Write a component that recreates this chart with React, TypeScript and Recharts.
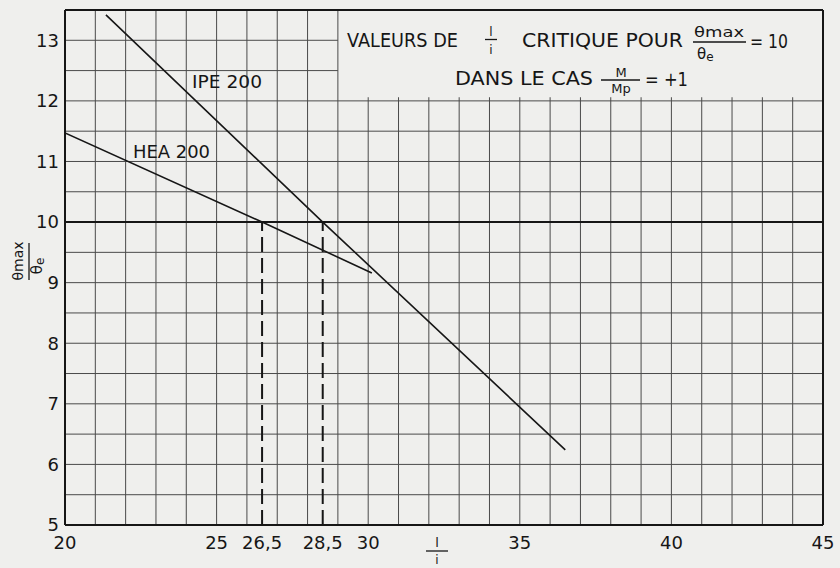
import { LineChart, Line, XAxis, YAxis, ReferenceLine } from "recharts";

// l/i values and theta_max/theta_e readings
const ipe200 = [
  { x: 21.35, y: 13.42 },
  { x: 28.5, y: 10 },
  { x: 36.5, y: 6.24 },
];

const hea200 = [
  { x: 20, y: 11.47 },
  { x: 26.5, y: 10 },
  { x: 30.12, y: 9.16 },
];

const xTicks = [20, 25, 26.5, 28.5, 30, 35, 40, 45];
const yTicks = [5, 6, 7, 8, 9, 10, 11, 12, 13];
const criticalX = [26.5, 28.5];

// grid
const gridXFull = [21, 22, 23, 24, 25, 26, 27, 28, 29];
const gridXShort = [30, 31, 32, 33, 34, 35, 36, 37, 38, 39, 40, 41, 42, 43, 44];
const gridYFull = [5.5, 6, 6.5, 7, 7.5, 8, 8.5, 9, 9.5, 10.5, 11, 11.5, 12];
const gridYShort = [12.5, 13];

const BG = "#efefed";
const GRID = "#4a4a4a";
const INK = "#161616";
const FONT = "'DejaVu Sans', sans-serif";

const fmt = (v: number) => String(v).replace(".", ",");

function Overlay() {
  const t = { fontFamily: FONT, fill: INK };
  return (
    <svg
      width={840}
      height={568}
      style={{ position: "absolute", left: 0, top: 0, pointerEvents: "none" }}
    >
      {/* title, line 1 */}
      <text {...t} x={347} y={47} fontSize={19} textLength={111} lengthAdjust="spacingAndGlyphs">
        VALEURS DE
      </text>
      <text {...t} x={491} y={36} fontSize={12} textAnchor="middle">l</text>
      <line x1={485} x2={497} y1={39.5} y2={39.5} stroke={INK} strokeWidth={1.3} />
      <text {...t} x={491} y={54} fontSize={12} textAnchor="middle">i</text>
      <text {...t} x={522} y={47} fontSize={19} textLength={161} lengthAdjust="spacingAndGlyphs">
        CRITIQUE POUR
      </text>
      <text {...t} x={694} y={37} fontSize={14} textLength={50} lengthAdjust="spacingAndGlyphs">
        θmax
      </text>
      <line x1={693} x2={746} y1={42} y2={42} stroke={INK} strokeWidth={1.3} />
      <text {...t} x={697} y={59} fontSize={15}>
        θ<tspan fontSize={12} dy={2}>e</tspan>
      </text>
      <text {...t} x={750} y={48} fontSize={19} textLength={38} lengthAdjust="spacingAndGlyphs">
        = 10
      </text>

      {/* title, line 2 */}
      <text {...t} x={455} y={85} fontSize={19} textLength={138} lengthAdjust="spacingAndGlyphs">
        DANS LE CAS
      </text>
      <text {...t} x={621} y={77} fontSize={13} textAnchor="middle">M</text>
      <line x1={601} x2={640} y1={80} y2={80} stroke={INK} strokeWidth={1.3} />
      <text {...t} x={621} y={93} fontSize={13} textAnchor="middle">Mp</text>
      <text {...t} x={645} y={86} fontSize={19} textLength={43} lengthAdjust="spacingAndGlyphs">
        = +1
      </text>

      {/* curve labels */}
      <text {...t} x={192} y={88} fontSize={17} textLength={70} lengthAdjust="spacingAndGlyphs">
        IPE 200
      </text>
      <text {...t} x={133} y={158} fontSize={17} textLength={77} lengthAdjust="spacingAndGlyphs">
        HEA 200
      </text>

      {/* y axis label */}
      <g transform="translate(29,262) rotate(-90)">
        <text {...t} x={1} y={-6} fontSize={14} textAnchor="middle">θmax</text>
        <line x1={-18} x2={19} y1={0} y2={0} stroke={INK} strokeWidth={1.3} />
        <text {...t} x={-4} y={13} fontSize={15} textAnchor="middle">
          θ<tspan fontSize={12} dy={2}>e</tspan>
        </text>
      </g>

      {/* x axis label */}
      <text {...t} x={437} y={547} fontSize={13} textAnchor="middle">l</text>
      <line x1={426} x2={448} y1={551} y2={551} stroke={INK} strokeWidth={1.3} />
      <text {...t} x={437} y={564} fontSize={12} textAnchor="middle">i</text>
    </svg>
  );
}

export default function App() {
  return (
    <div style={{ position: "absolute", left: 0, top: 0, width: 840, height: 568, background: BG }}>
      <LineChart width={840} height={568} margin={{ top: 10, right: 17, bottom: 0, left: 0 }}>
        <XAxis
          type="number"
          dataKey="x"
          domain={[20, 45]}
          ticks={xTicks}
          tickFormatter={fmt}
          allowDataOverflow
          height={43}
          tickLine={false}
          tickSize={0}
          tickMargin={11}
          axisLine={{ stroke: INK, strokeWidth: 2 }}
          tick={{ fontFamily: FONT, fontSize: 18, fill: INK }}
        />
        <YAxis
          type="number"
          dataKey="y"
          domain={[5, 13.5]}
          ticks={yTicks}
          allowDataOverflow
          width={65}
          tickLine={false}
          tickSize={0}
          tickMargin={6}
          axisLine={{ stroke: INK, strokeWidth: 2 }}
          tick={{ fontFamily: FONT, fontSize: 18, fill: INK }}
        />

        {gridXFull.map((v) => (
          <ReferenceLine key={`gx${v}`} x={v} stroke={GRID} strokeWidth={1} />
        ))}
        {gridXShort.map((v) => (
          <ReferenceLine
            key={`gxs${v}`}
            segment={[{ x: v, y: 5 }, { x: v, y: 12.06 }]}
            stroke={GRID}
            strokeWidth={1}
          />
        ))}
        {gridYFull.map((v) => (
          <ReferenceLine key={`gy${v}`} y={v} stroke={GRID} strokeWidth={1} />
        ))}
        {gridYShort.map((v) => (
          <ReferenceLine
            key={`gys${v}`}
            segment={[{ x: 20, y: v }, { x: 29, y: v }]}
            stroke={GRID}
            strokeWidth={1}
          />
        ))}
        <ReferenceLine y={10} stroke={INK} strokeWidth={2} />
        <ReferenceLine y={13.5} stroke={INK} strokeWidth={2} />
        <ReferenceLine x={45} stroke={INK} strokeWidth={2} />
        {criticalX.map((v) => (
          <ReferenceLine
            key={`c${v}`}
            segment={[{ x: v, y: 5 }, { x: v, y: 10 }]}
            stroke={INK}
            strokeWidth={2}
            strokeDasharray="15 6"
          />
        ))}

        <Line
          data={ipe200}
          dataKey="y"
          type="linear"
          stroke={INK}
          strokeWidth={1.6}
          dot={false}
          isAnimationActive={false}
        />
        <Line
          data={hea200}
          dataKey="y"
          type="linear"
          stroke={INK}
          strokeWidth={1.6}
          dot={false}
          isAnimationActive={false}
        />
      </LineChart>
      <Overlay />
    </div>
  );
}
